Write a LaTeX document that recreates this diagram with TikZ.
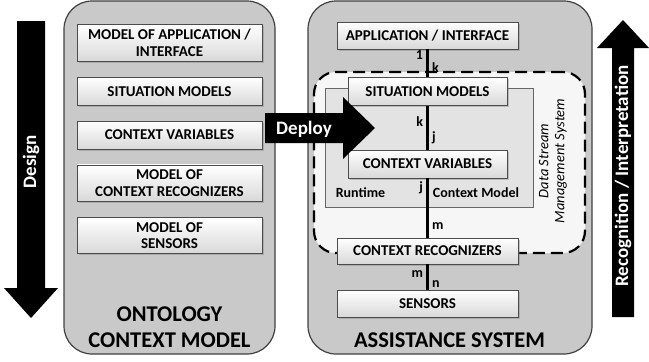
\documentclass[tikz,border=0pt]{standalone}
\usepackage{fontspec}
\setmainfont{Carlito}
\usetikzlibrary{positioning,shadows}

\begin{document}
\begin{tikzpicture}[x=1pt, y=-1pt, node distance=15pt,
   container/.style={draw=black!75, line width=1.2pt, fill=gray!42, rounded corners=28pt},
   layer/.style={draw=black!70, line width=0.8pt, top color=white, bottom color=gray!30,
      minimum width=#1, minimum height=28pt, inner ysep=5pt, align=center,
      font=\fontsize{15}{16.5}\selectfont\bfseries,
      drop shadow={shadow xshift=1.5pt, shadow yshift=-1.5pt, opacity=0.4}},
   title/.style={align=center, font=\fontsize{22.5}{26}\selectfont\bfseries},
   flow/.style={fill=black},
   flowtext/.style={text=white, font=\fontsize{19}{21}\selectfont\bfseries},
   link/.style={line width=3pt},
   lbl/.style={font=\fontsize{14}{16}\selectfont\bfseries, inner sep=1pt}]
   \useasboundingbox (0,0) rectangle (649,362);
   % containers
   \node[container, minimum width=211pt, minimum height=353pt] (onto) at (169.5,177.5) {};
   \node[container, minimum width=284pt, minimum height=353pt] (assist) at (450,177.5) {};
   \node[title] (ontotitle) at (169.5,327) {ONTOLOGY\\CONTEXT MODEL};
   \node[title] (assisttitle) at (449.5,340) {ASSISTANCE SYSTEM};
   % data stream management system and runtime model
   \node[draw=black, line width=2.2pt, dash pattern=on 12pt off 6pt, fill=gray!7,
      rounded corners=22pt, minimum width=271pt, minimum height=181pt] (dsms) at (449.5,162.5) {};
   \node[draw=black!60, line width=0.8pt, fill=gray!22, minimum width=208pt, minimum height=119pt] (runtime) at (429,147.5) {};
   \node[lbl] (rtlabel) at (360.5,193) {Runtime};
   \node[lbl] (cmlabel) at (476,193) {Context Model};
   \node[rotate=90, align=center, font=\fontsize{14.5}{16}\selectfont\itshape] (dsmslabel) at (553,161) {Data Stream\\Management System};
   % design side
   \node[layer=185pt, anchor=north] (mapp) at (169.5,24) {MODEL OF APPLICATION /\\INTERFACE};
   \node[layer=185pt] (msit) [below = of mapp] {SITUATION MODELS};
   \node[layer=185pt] (mvar) [below = of msit] {CONTEXT VARIABLES};
   \node[layer=185pt] (mrec) [below = of mvar] {MODEL OF\\CONTEXT RECOGNIZERS};
   \node[layer=185pt] (msens) [below = of mrec] {MODEL OF\\SENSORS};
   % runtime side
   \node[layer=181pt, minimum height=27pt] (app) at (427.5,35.5) {APPLICATION / INTERFACE};
   \node[layer=159pt] (sit) at (427.5,91.5) {SITUATION MODELS};
   \node[layer=159pt] (cvar) at (427.5,164) {CONTEXT VARIABLES};
   \node[layer=181pt, minimum height=26pt] (crec) at (427.5,251) {CONTEXT RECOGNIZERS};
   \node[layer=181pt, minimum height=27pt] (sens) at (427.5,303.5) {SENSORS};
   \path[link]
    (app) edge node[lbl, pos=.2, left=2pt] {1} node[lbl, pos=.65, right=2pt] {k} (sit)
    (sit) edge node[lbl, pos=.36, left=2pt] {k} node[lbl, pos=.73, right=2pt] {j} (cvar)
    (cvar) edge node[lbl, pos=.15, left=2pt] {j} node[lbl, pos=.8, right=2pt] {m} (crec)
    (crec) edge node[lbl, pos=.38, left=2pt] {m} node[lbl, pos=.77, right=2pt] {n} (sens);
   % big arrows
   \fill[flow] (265,113) -- (343,113) -- (343,97) -- (375,128) -- (343,159) -- (343,143) -- (265,143) -- cycle;
   \node[flowtext] (deploy) at (304,129) {Deploy};
   \fill[flow] (17,21) -- (45,21) -- (45,288) -- (58,288) -- (31,318) -- (4,288) -- (17,288) -- cycle;
   \node[flowtext, rotate=90] (design) at (31,162) {Design};
   \fill[flow] (612,317) -- (612,48) -- (597,48) -- (623,20) -- (649,48) -- (634,48) -- (634,317) -- cycle;
   \node[flowtext, rotate=90] (recog) at (623,176) {Recognition / Interpretation};
\end{tikzpicture}
\end{document}
